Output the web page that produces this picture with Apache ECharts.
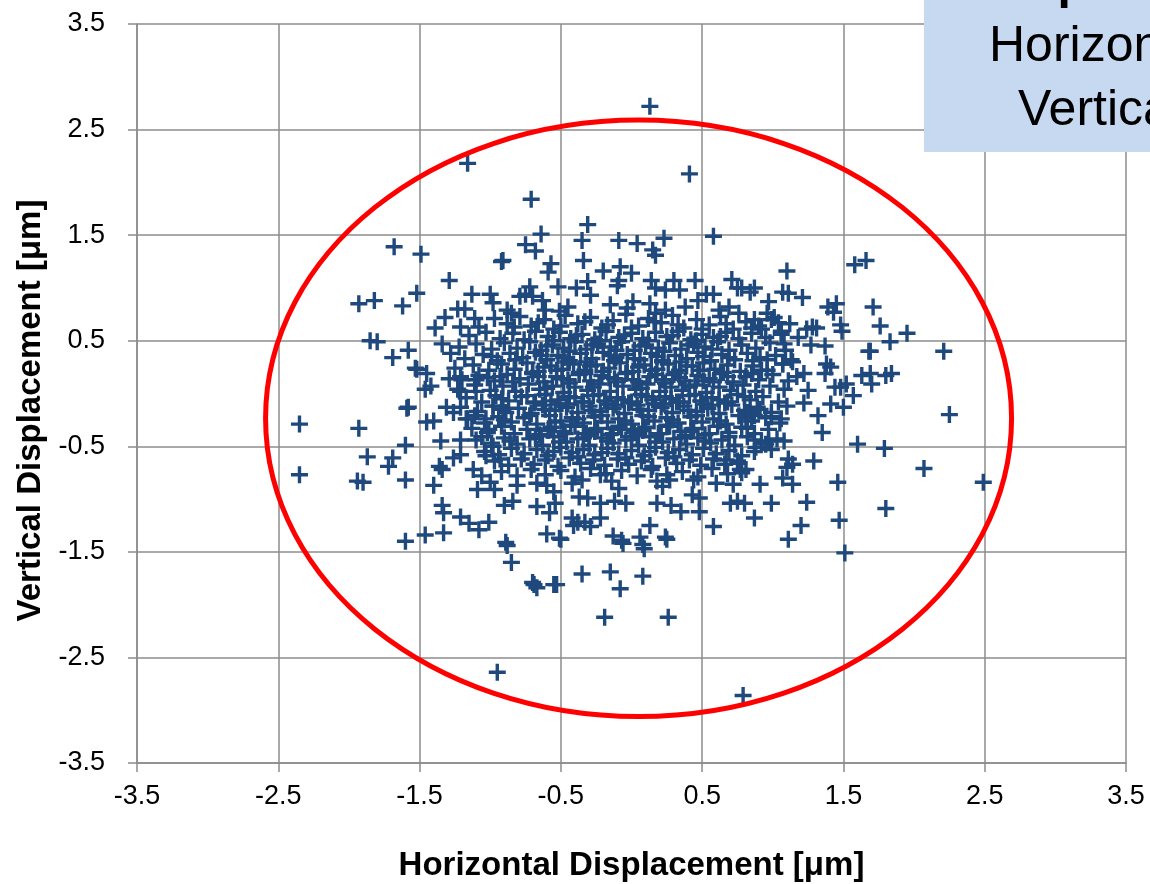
<!DOCTYPE html>
<html>
<head>
<meta charset="utf-8">
<script src="https://cdn.jsdelivr.net/npm/echarts@6/dist/echarts.min.js"></script>
<style>
  html, body { margin: 0; padding: 0; background: #fff; }
  #chart { width: 1150px; height: 884px; }
</style>
</head>
<body>
<div id="chart"></div>
<script>
// points above the main cloud
let upperPts = [
  [0.13,2.72],[-1.16,2.18],[0.41,2.08],[-0.71,1.84],[-0.31,1.60],[-0.64,1.51],[0.58,1.49],[0.23,1.47],
  [-0.35,1.45],[-0.09,1.45],[0.04,1.42],[-0.75,1.41],[-0.68,1.35],[0.15,1.36],[0.17,1.31],[-0.91,1.26],
  [-0.34,1.26],[-0.57,1.23],[-0.59,1.15],[-0.20,1.16],[-0.08,1.20],[0.00,1.14],[-0.09,1.07],[-0.10,1.02],
  [0.14,1.07],[0.45,1.07],[0.30,1.07],[-0.31,1.06],[-0.39,1.00],[-0.52,1.01],[-0.72,1.01],[-0.79,0.92],
  [-0.75,0.94],[-0.70,0.92],[0.71,1.08],[0.75,1.00],[0.78,1.00],[0.17,1.00],[0.24,0.98],[0.34,0.98],
  [0.53,0.94],[0.58,0.94],[-0.29,0.93],[-0.15,0.84],[0.01,0.87],[-0.03,0.81],[-0.45,0.82],[-0.51,0.78],
  [-0.63,0.88],[-0.61,0.79],[-0.88,0.79],[-0.85,0.76],[0.13,0.85],[0.17,0.76],[0.24,0.79],[0.38,0.82],
  [0.47,0.88],[0.62,0.79],[0.69,0.82],[0.76,0.76]
];
// left side
let leftPts = [
  [-1.68,1.39],[-1.49,1.32],[-0.92,1.25],[-1.29,1.07],[-1.13,0.94],[-1.52,0.95],[-1.93,0.85],[-1.82,0.88],
  [-1.62,0.83],[-1.00,0.94],[-0.98,0.86],[-1.32,0.72],[-1.23,0.80],[-1.18,0.80],[-1.11,0.71],[-1.39,0.62],
  [-1.21,0.63],[-1.85,0.50],[-1.80,0.49],[-1.58,0.41],[-1.69,0.34],[-1.34,0.47],[-1.28,0.38],[-1.53,0.24],
  [-1.45,0.19],[-2.35,-0.29],[-2.35,-0.77],[-1.93,-0.33],[-1.87,-0.60],[-1.94,-0.83],[-1.90,-0.84],
  [-1.69,-0.61],[-1.72,-0.69],[-1.60,-0.82],[-1.60,-0.49],[-1.58,-0.13],[-1.59,-0.14],[-1.40,-0.87],
  [-1.36,-0.69],[-1.34,-0.72],[-1.34,-1.06],[-1.33,-1.13],[-1.21,-1.17],[-1.15,-1.23],[-1.26,-0.61],
  [-1.21,-0.58],[-1.35,-0.45],[-1.21,-0.44],[-1.40,-0.26],[-1.45,-0.27],[-1.26,-0.18],[-1.31,-0.13],
  [-1.46,0.04],[-1.42,0.07],[-1.52,0.23],[-1.29,0.14],[-1.21,0.16],[-1.10,0.13],[-0.93,0.16],[-1.11,-0.21],
  [-1.03,-0.24],[-0.98,-0.12],[-0.91,-0.15],[-1.12,-0.72],[-1.06,-0.78],[-1.00,-0.84],[-1.09,-0.91],
  [-0.97,-0.91],[-1.08,-1.29],[-1.01,-1.22],[-0.90,-1.06],[-0.89,-1.41],[-1.06,-0.41],[-0.98,-0.50],
  [-1.03,-0.59],[-0.93,-0.62],[-1.21,0.02],[-1.10,0.02],[-1.17,-0.24],[-1.01,-0.34],[-1.60,-1.40],
  [-1.46,-1.34],[-1.33,-1.32]
];
// right side
let rightPts = [
  [1.58,1.22],[1.66,1.26],[1.10,1.16],[1.07,0.96],[1.11,0.95],[1.21,0.91],[1.39,0.82],[1.45,0.85],
  [1.43,0.77],[1.71,0.82],[1.76,0.64],[1.95,0.57],[1.83,0.49],[1.68,0.40],[1.69,0.40],[2.21,0.40],
  [1.48,0.65],[1.49,0.59],[1.28,0.63],[1.31,0.62],[1.24,0.61],[1.18,0.53],[1.27,0.46],[1.37,0.45],
  [0.97,0.87],[0.87,1.00],[0.84,0.96],[0.96,0.76],[0.99,0.70],[1.04,0.67],[1.06,0.59],[0.87,0.70],
  [0.92,0.61],[1.08,0.47],[1.07,0.28],[1.14,0.30],[1.38,0.28],[1.41,0.25],[0.96,0.32],[0.92,0.22],
  [1.22,0.19],[1.69,0.19],[1.84,0.19],[2.25,-0.20],[1.60,-0.48],[1.79,-0.52],[2.07,-0.71],[2.49,-0.84],
  [1.80,-1.09],[1.47,-1.20],[1.46,-0.84],[1.20,-1.25],[1.24,-1.03],[0.99,-1.04],[0.87,-1.18],
  [0.91,-0.86],[1.14,-0.86],[1.07,-0.80],[1.29,-0.64],[1.11,-0.62],[1.14,-0.67],[1.10,-0.70],[0.87,-0.55],
  [0.97,-0.45],[0.99,-0.53],[0.95,-0.48],[1.08,-0.45],[1.35,-0.37],[1.32,-0.21],[1.50,-0.13],[1.57,-0.02],
  [1.48,0.06],[1.52,0.09],[1.44,0.06],[1.41,-0.10],[1.63,0.17],[1.70,0.09],[1.80,0.17],[1.22,-0.09],
  [1.25,0.03],[1.17,0.16],[1.37,0.19],[0.82,-0.33],[0.78,-0.75],[0.80,-1.04],[0.77,-0.72],[1.06,-0.24],
  [0.91,-0.15],[0.87,-0.21],[0.82,-0.18],[0.99,-0.22]
];
// below the main cloud
let lowerPts = [
  [-0.95,-2.64],[0.79,-2.86],[-0.19,-2.12],[0.26,-2.12],[-0.35,-1.71],[-0.15,-1.69],[-0.08,-1.85],
  [0.08,-1.73],[-0.69,-1.81],[-0.70,-1.79],[-0.67,-1.84],[-0.55,-1.81],[-0.53,-1.81],[-0.85,-1.60],
  [-0.88,-1.44],[1.11,-1.38],[1.51,-1.51],[-0.06,-1.42],[0.08,-1.43],[0.09,-1.47],[-0.50,-1.38],
  [0.25,-1.38],[-0.60,-1.33],[-0.51,-1.37],[-0.41,-1.25],[-0.38,-1.22],[-0.42,-1.18],[-0.33,-1.22],
  [-0.29,-1.26],[-0.22,-1.18],[-0.13,-1.35],[-0.07,-1.39],[0.06,-1.36],[0.13,-1.25],[0.24,-1.36],
  [-0.84,-1.02],[-0.67,-1.07],[-0.58,-1.13],[-0.54,-1.04],[-0.37,-0.98],[-0.31,-0.99],[-0.22,-1.04],
  [-0.12,-1.02],[-0.04,-1.04],[0.18,-1.04],[0.28,-1.06],[0.35,-1.12],[0.48,-1.12],[0.58,-1.26],
  [0.70,-1.04],[0.75,-1.02],[0.67,-0.63],[0.76,-0.66],[0.81,-0.72],[0.72,-0.86],[0.60,-0.85],
  [0.44,-0.82],[0.43,-0.96],[0.48,-0.99],[0.22,-0.88],[0.18,-0.83],[0.27,-0.82],[-0.22,-0.77],
  [-0.14,-0.83],[-0.09,-0.90],[-0.60,-0.87],[-0.55,-0.93],[-0.67,-0.85],[-0.81,-0.87],[-0.42,-0.85],
  [-0.35,-0.82]
];
// dense core (estimated)
let corePts = [
  [-1.08,0.63],[-0.97,0.71],[-0.88,0.66],[-0.79,0.73],[-0.71,0.64],[-0.62,0.70],[-0.55,0.61],[-0.47,0.74],
  [-0.38,0.66],[-0.29,0.72],[-0.21,0.62],[-0.13,0.69],[-0.04,0.75],[0.05,0.64],[0.12,0.71],[0.21,0.67],
  [0.29,0.74],[0.37,0.62],[0.46,0.70],[0.55,0.65],[0.63,0.73],[0.72,0.61],[0.81,0.68],[0.90,0.64],
  [1.01,0.72],[1.12,0.66],
  [-1.15,0.55],[-1.03,0.58],[-0.93,0.52],[-0.84,0.57],[-0.76,0.51],[-0.68,0.59],[-0.59,0.54],[-0.51,0.58],
  [-0.43,0.52],[-0.35,0.56],[-0.26,0.51],[-0.18,0.59],[-0.09,0.53],[0.00,0.57],[0.08,0.52],[0.17,0.58],
  [0.25,0.54],[0.33,0.59],[0.42,0.51],[0.50,0.56],[0.58,0.53],[0.67,0.58],[0.76,0.52],[0.85,0.57],
  [0.95,0.53],[1.06,0.56],
  [-1.22,0.44],[-1.10,0.47],[-0.99,0.42],[-0.90,0.48],[-0.81,0.43],[-0.72,0.49],[-0.64,0.41],[-0.56,0.46],
  [-0.48,0.43],[-0.40,0.49],[-0.32,0.42],[-0.24,0.47],[-0.15,0.44],[-0.07,0.49],[0.02,0.41],[0.10,0.46],
  [0.19,0.43],[0.27,0.48],[0.35,0.42],[0.44,0.47],[0.52,0.44],[0.61,0.49],[0.69,0.41],[0.78,0.46],
  [0.88,0.43],[0.98,0.48],[1.09,0.41],
  [-1.18,0.33],[-1.05,0.37],[-0.95,0.31],[-0.86,0.38],[-0.77,0.34],[-0.68,0.39],[-0.60,0.32],[-0.52,0.36],
  [-0.44,0.31],[-0.36,0.38],[-0.28,0.33],[-0.20,0.39],[-0.11,0.34],[-0.03,0.37],[0.06,0.32],[0.14,0.38],
  [0.22,0.31],[0.31,0.36],[0.39,0.33],[0.47,0.39],[0.56,0.31],[0.64,0.37],[0.73,0.32],[0.82,0.38],
  [0.91,0.34],[1.02,0.36],[1.13,0.32],
  [-1.25,0.24],[-1.12,0.27],[-1.01,0.22],[-0.92,0.28],[-0.83,0.23],[-0.74,0.29],[-0.66,0.21],[-0.57,0.26],
  [-0.49,0.23],[-0.41,0.28],[-0.33,0.22],[-0.25,0.27],[-0.16,0.24],[-0.08,0.29],[0.01,0.21],[0.09,0.27],
  [0.18,0.23],[0.26,0.28],[0.34,0.22],[0.43,0.26],[0.51,0.29],[0.59,0.23],[0.68,0.27],[0.77,0.21],
  [0.86,0.26],[0.96,0.22],[1.07,0.28],
  [-1.20,0.13],[-1.08,0.17],[-0.97,0.12],[-0.88,0.18],[-0.79,0.14],[-0.70,0.19],[-0.62,0.11],[-0.53,0.16],
  [-0.45,0.13],[-0.37,0.18],[-0.29,0.12],[-0.21,0.17],[-0.12,0.14],[-0.04,0.19],[0.05,0.11],[0.13,0.16],
  [0.22,0.13],[0.30,0.18],[0.38,0.12],[0.47,0.17],[0.55,0.14],[0.63,0.19],[0.72,0.11],[0.81,0.16],
  [0.90,0.13],[1.00,0.18],[1.11,0.12],
  [-1.23,0.04],[-1.11,0.08],[-1.00,0.03],[-0.91,0.07],[-0.82,0.02],[-0.73,0.09],[-0.65,0.04],[-0.56,0.07],
  [-0.48,0.01],[-0.40,0.06],[-0.31,0.03],[-0.23,0.09],[-0.15,0.02],[-0.06,0.07],[0.03,0.04],[0.11,0.09],
  [0.20,0.02],[0.28,0.06],[0.36,0.03],[0.45,0.08],[0.53,0.01],[0.62,0.06],[0.70,0.03],[0.79,0.08],
  [0.88,0.02],[0.98,0.07],[1.08,0.04],
  [-1.17,-0.04],[-1.06,-0.08],[-0.96,-0.02],[-0.87,-0.07],[-0.78,-0.03],[-0.69,-0.09],[-0.61,-0.01],
  [-0.52,-0.06],[-0.44,-0.03],[-0.35,-0.08],[-0.27,-0.02],[-0.19,-0.07],[-0.10,-0.04],[-0.02,-0.09],
  [0.07,-0.01],[0.15,-0.06],[0.24,-0.03],[0.32,-0.08],[0.41,-0.02],[0.49,-0.07],[0.57,-0.04],[0.66,-0.09],
  [0.75,-0.01],[0.84,-0.06],[0.93,-0.03],[1.04,-0.08],
  [-1.21,-0.13],[-1.09,-0.17],[-0.98,-0.12],[-0.89,-0.18],[-0.80,-0.14],[-0.71,-0.19],[-0.63,-0.11],
  [-0.54,-0.16],[-0.46,-0.13],[-0.38,-0.18],[-0.30,-0.12],[-0.22,-0.17],[-0.13,-0.14],[-0.05,-0.19],
  [0.04,-0.11],[0.12,-0.16],[0.21,-0.13],[0.29,-0.18],[0.37,-0.12],[0.46,-0.17],[0.54,-0.14],[0.62,-0.19],
  [0.71,-0.11],[0.80,-0.16],[0.89,-0.13],[0.99,-0.18],[1.10,-0.12],
  [-1.16,-0.24],[-1.04,-0.28],[-0.94,-0.22],[-0.85,-0.27],[-0.76,-0.23],[-0.67,-0.29],[-0.58,-0.21],
  [-0.50,-0.26],[-0.42,-0.23],[-0.34,-0.28],[-0.26,-0.22],[-0.17,-0.27],[-0.09,-0.24],[0.00,-0.29],
  [0.08,-0.21],[0.16,-0.26],[0.25,-0.23],[0.33,-0.28],[0.42,-0.22],[0.50,-0.27],[0.58,-0.24],[0.67,-0.29],
  [0.76,-0.21],[0.85,-0.26],[0.95,-0.23],[1.05,-0.28],
  [-1.13,-0.33],[-1.02,-0.37],[-0.92,-0.31],[-0.83,-0.38],[-0.74,-0.34],[-0.65,-0.39],[-0.57,-0.32],
  [-0.48,-0.36],[-0.40,-0.31],[-0.32,-0.38],[-0.24,-0.33],[-0.15,-0.39],[-0.07,-0.34],[0.02,-0.37],
  [0.10,-0.32],[0.19,-0.38],[0.27,-0.31],[0.35,-0.36],[0.44,-0.33],[0.52,-0.39],[0.61,-0.31],[0.69,-0.37],
  [0.78,-0.32],[0.87,-0.38],[0.97,-0.34],
  [-1.10,-0.44],[-0.99,-0.47],[-0.90,-0.42],[-0.81,-0.48],[-0.72,-0.43],[-0.63,-0.49],[-0.55,-0.41],
  [-0.46,-0.46],[-0.38,-0.43],[-0.30,-0.49],[-0.21,-0.42],[-0.13,-0.47],[-0.04,-0.44],[0.05,-0.49],
  [0.13,-0.41],[0.22,-0.46],[0.30,-0.43],[0.39,-0.48],[0.47,-0.42],[0.56,-0.47],[0.64,-0.44],[0.73,-0.49],
  [0.82,-0.41],[0.92,-0.46],[1.03,-0.43],
  [-1.04,-0.55],[-0.94,-0.58],[-0.85,-0.52],[-0.76,-0.57],[-0.67,-0.53],[-0.59,-0.59],[-0.50,-0.51],
  [-0.42,-0.56],[-0.34,-0.53],[-0.26,-0.58],[-0.17,-0.52],[-0.09,-0.57],[0.00,-0.54],[0.09,-0.59],
  [0.17,-0.51],[0.26,-0.56],[0.34,-0.53],[0.43,-0.58],[0.51,-0.52],[0.60,-0.57],[0.69,-0.54],[0.78,-0.59],
  [0.88,-0.51],
  [-0.97,-0.64],[-0.87,-0.68],[-0.78,-0.62],[-0.69,-0.67],[-0.61,-0.63],[-0.52,-0.69],[-0.44,-0.61],
  [-0.36,-0.66],[-0.27,-0.63],[-0.19,-0.68],[-0.10,-0.62],[-0.02,-0.67],[0.07,-0.64],[0.15,-0.69],
  [0.24,-0.61],[0.32,-0.66],[0.41,-0.63],[0.49,-0.68],[0.58,-0.62],[0.66,-0.67],[0.75,-0.64],
  [-0.92,-0.74],[-0.81,-0.78],[-0.71,-0.72],[-0.61,-0.77],[-0.50,-0.73],[-0.40,-0.79],[-0.29,-0.71],
  [-0.18,-0.76],[-0.07,-0.73],[0.04,-0.78],[0.14,-0.72],[0.25,-0.77],[0.36,-0.74],[0.47,-0.79],
  [0.57,-0.71],[0.68,-0.76],
  [-0.60,0.45],[-0.44,0.40],[-0.28,0.46],[-0.11,0.41],[0.06,0.45],[0.23,0.40],[0.40,0.46],[0.57,0.42],
  [-0.62,0.25],[-0.45,0.30],[-0.29,0.26],[-0.12,0.31],[0.05,0.25],[0.22,0.30],[0.39,0.26],[0.56,0.31],
  [-0.60,0.05],[-0.44,0.10],[-0.27,0.06],[-0.10,0.11],[0.07,0.05],[0.24,0.10],[0.41,0.06],[0.58,0.11],
  [-0.61,-0.15],[-0.45,-0.10],[-0.28,-0.16],[-0.11,-0.11],[0.06,-0.15],[0.23,-0.10],[0.40,-0.16],[0.57,-0.11],
  [-0.59,-0.35],[-0.43,-0.30],[-0.26,-0.36],[-0.09,-0.31],[0.08,-0.35],[0.25,-0.30],[0.42,-0.36],
  [-0.55,-0.55],[-0.38,-0.60],[-0.21,-0.56],[-0.04,-0.61],[0.13,-0.55],[0.30,-0.60],
  [-0.83,0.63],[-0.66,0.67],[-0.50,0.64],[-0.33,0.68],[-0.17,0.65],[0.00,0.62],[0.16,0.68],[0.33,0.65],
  [0.50,0.61],[0.67,0.66],[0.85,0.62],
  [-0.99,0.35],[-0.82,0.32],[-0.64,0.36],[-0.48,0.34],[-0.32,0.30],[-0.15,0.36],[0.02,0.33],[0.18,0.35],
  [0.35,0.30],[0.51,0.35],[0.69,0.34],[0.86,0.31],
  [-1.02,0.15],[-0.84,0.11],[-0.66,0.16],[-0.49,0.14],[-0.33,0.19],[-0.16,0.15],[0.01,0.13],[0.17,0.18],
  [0.34,0.15],[0.51,0.12],[0.68,0.16],[0.85,0.19],
  [-0.92,-0.05],[-0.74,-0.02],[-0.57,-0.07],[-0.40,-0.04],[-0.23,-0.01],[-0.06,-0.06],[0.11,-0.03],
  [0.28,-0.05],[0.45,-0.01],[0.62,-0.06],[0.80,-0.03],
  [-0.90,-0.25],[-0.72,-0.21],[-0.54,-0.27],[-0.38,-0.24],[-0.21,-0.21],[-0.04,-0.26],[0.12,-0.22],
  [0.29,-0.25],[0.46,-0.21],[0.63,-0.26],[0.81,-0.23],
  [-0.86,-0.45],[-0.68,-0.41],[-0.51,-0.46],[-0.34,-0.42],[-0.17,-0.45],[0.00,-0.41],[0.17,-0.46],
  [0.35,-0.42],[0.52,-0.45],[0.69,-0.41],[0.87,-0.44],
  [-0.55,0.50],[-0.39,0.55],[-0.22,0.50],[-0.05,0.55],[0.12,0.50],[0.29,0.55],[0.46,0.50],[0.63,0.54],
  [-0.70,0.20],[-0.53,0.22],[-0.37,0.20],[-0.20,0.21],[-0.03,0.20],[0.14,0.22],[0.31,0.20],[0.48,0.22],
  [0.65,0.20],
  [-0.68,-0.08],[-0.51,-0.10],[-0.34,-0.08],[-0.17,-0.10],[0.00,-0.08],[0.17,-0.10],[0.34,-0.08],
  [0.51,-0.10],[0.68,-0.08],
  [-0.64,-0.40],[-0.47,-0.38],[-0.30,-0.40],[-0.13,-0.38],[0.04,-0.40],[0.21,-0.38],[0.38,-0.40],[0.55,-0.38]
];
// red boundary ellipse: centre and half-axes in data units
let ellipseCenter = [0.05, -0.235];
let ellipseRadii = [2.64, 2.825];

let axisMin = -3.5;
let axisMax = 3.5;
let axisStep = 1;

let plusPath = "path://M6.8,0H10.2V6.8H17V10.2H10.2V17H6.8V10.2H0V6.8H6.8Z";
let gridColor = "#8c8c8c";

let axisCommon = {
    min: axisMin,
    max: axisMax,
    interval: axisStep,
    nameLocation: "middle",
    nameTextStyle: {
        fontFamily: "Liberation Sans",
        fontWeight: "bold",
        fontSize: 33,
        color: "#000",
    },
    axisLine: {
        show: true,
        onZero: false,
        lineStyle: {color: gridColor, width: 1.5},
    },
    axisTick: {
        show: true,
        length: 9,
        lineStyle: {color: gridColor, width: 1.5},
    },
    splitLine: {
        show: true,
        lineStyle: {color: gridColor, width: 1.5},
    },
    axisLabel: {
        fontFamily: "Liberation Sans",
        fontSize: 27,
        color: "#000",
        formatter: v => String(Number(v.toFixed(1))),
    },
};

let options = {
    animation: false,
    grid: {
        left: 137,
        top: 24,
        right: 24,
        bottom: 121,
        containLabel: false,
        outerBoundsMode: "none",
    },
    xAxis: Object.assign({}, axisCommon, {
        type: "value",
        name: "Horizontal Displacement [μm]",
        nameGap: 86,
        axisLabel: Object.assign({}, axisCommon.axisLabel, {margin: 20}),
    }),
    yAxis: Object.assign({}, axisCommon, {
        type: "value",
        name: "Vertical Displacement [μm]",
        nameGap: 89,
        nameTextStyle: Object.assign({}, axisCommon.nameTextStyle, {padding: [0, 34, 0, 0]}),
        axisLabel: Object.assign({}, axisCommon.axisLabel, {margin: 32}),
    }),
    series: [
        {
            type: "scatter",
            symbol: plusPath,
            symbolSize: 17,
            itemStyle: {color: "#1f497d", opacity: 1},
            data: [].concat(corePts, upperPts, leftPts, rightPts, lowerPts),
            z: 2,
        },
        {
            type: "custom",
            z: 3,
            clip: false,
            data: [[ellipseCenter[0], ellipseCenter[1], ellipseRadii[0], ellipseRadii[1]]],
            renderItem: (params, api) => {
                let c = api.coord([api.value(0), api.value(1)]);
                let s = api.size([api.value(2), api.value(3)]);
                return {
                    type: "ellipse",
                    shape: {cx: c[0], cy: c[1], rx: s[0], ry: s[1]},
                    style: {fill: "none", stroke: "#ff0000", lineWidth: 5},
                };
            },
        },
    ],
    graphic: [
        {
            type: "rect",
            x: 924,
            y: 0,
            z: 10,
            shape: {width: 260, height: 152},
            style: {fill: "#c6d9f1"},
        },
        {
            type: "text",
            x: 933,
            y: -15,
            z: 11,
            style: {text: "Time point", font: "bold 48px 'Liberation Sans'", fill: "#000", verticalAlign: "middle"},
        },
        {
            type: "text",
            x: 989,
            y: 47,
            z: 11,
            style: {text: "Horizontal", font: "50px 'Liberation Sans'", fill: "#000", verticalAlign: "middle"},
        },
        {
            type: "text",
            x: 1018,
            y: 111,
            z: 11,
            style: {text: "Vertical", font: "50px 'Liberation Sans'", fill: "#000", verticalAlign: "middle"},
        },
    ],
};

let chart = echarts.init(document.getElementById("chart"));
chart.setOption(options);
</script>
</body>
</html>
